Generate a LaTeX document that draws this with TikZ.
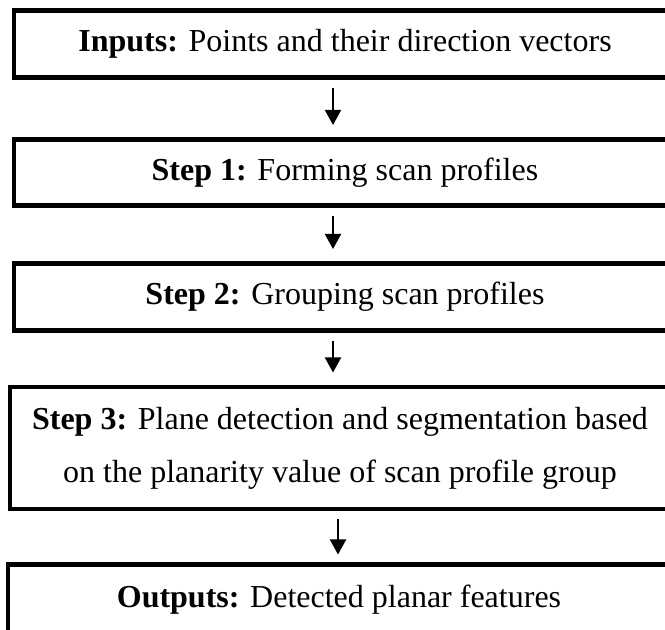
\documentclass[tikz,border=0pt]{standalone}
\usepackage{fontspec}
\setmainfont{Liberation Serif}
\usetikzlibrary{arrows.meta,calc}
\tikzset{
  flowbox/.style={draw=black, line width=3.4pt, inner sep=0pt, outer sep=0pt,
    minimum height=50.25pt, align=center,
    font=\fontsize{24}{39.75}\selectfont},
  flowarrow/.style={draw=black, line width=1.5pt,
    -{Triangle[width=12pt,length=11.25pt]}}
}
\begin{document}
\begin{tikzpicture}[x=0.75pt,y=-0.75pt]
  \useasboundingbox (0,0) rectangle (665,630);
  \clip (0,0) rectangle (665,630);
  \node[flowbox, minimum width=496.5pt] (in) at (345,44)
    {\textbf{Inputs:} Points and their direction vectors};
  \node[flowbox, minimum width=496.5pt, minimum height=49.5pt] (s1) at (345,172.5)
    {\textbf{Step 1:} Forming scan profiles};
  \node[flowbox, minimum width=496.5pt] (s2) at (345,297)
    {\textbf{Step 2:} Grouping scan profiles};
  \node[flowbox, minimum width=495pt, minimum height=91.5pt] (s3) at (340,448)
    {\textbf{Step 3:} Plane detection and segmentation based\\
     on the planarity value of scan profile group};
  \node[flowbox, minimum width=496.5pt, minimum height=52.5pt] (out) at (339,599.5)
    {\textbf{Outputs:} Detected planar features};
  \draw[flowarrow] ($(in.south)+(-12,10.5)$) -- ($(s1.north)+(-12,-14.5)$);
  \draw[flowarrow] ($(s1.south)+(-12,10.5)$) -- ($(s2.north)+(-12,-14.5)$);
  \draw[flowarrow] ($(s2.south)+(-12,10.5)$) -- ($(s3.north)+(-7,-14.5)$);
  \draw[flowarrow] ($(s3.south)+(-2,10.5)$) -- ($(out.north)+(-1,-10)$);
\end{tikzpicture}
\end{document}
